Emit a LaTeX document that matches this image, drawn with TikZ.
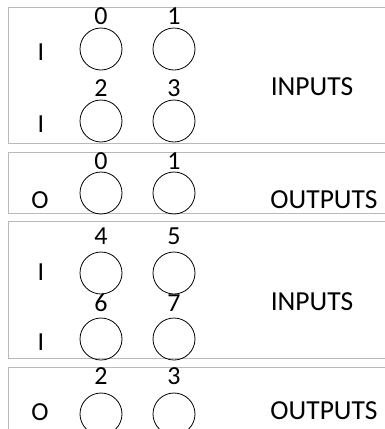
\documentclass[tikz,border=0pt]{standalone}
\usepackage{fontspec}
\setmainfont{Carlito}
\begin{document}
\begin{tikzpicture}[x=1pt,y=-1pt,
  panel/.style={draw=gray!55,line width=1pt},
  port/.style={draw=black,line width=0.8pt,circle,minimum size=42pt,inner sep=0pt},
  lbl/.style={inner sep=0pt,font=\fontsize{26}{26}\selectfont},
  big/.style={inner sep=0pt,font=\fontsize{27.5}{27.5}\selectfont}]
\clip (0,0) rectangle (385,429);
\fill[white] (0,0) rectangle (385,429);
% panels
\draw[panel] (8.5,7) rectangle (400,143);
\draw[panel] (8.5,152) rectangle (400,213);
\draw[panel] (8.5,221) rectangle (400,358);
\draw[panel] (8.5,367) rectangle (400,440);
% panel 1
\node[lbl] (n0) at (101,16) {0};
\node[lbl] (n1) at (174,16) {1};
\node[port] (c0) at (101,49) {};
\node[port] (c1) at (174,49) {};
\node[lbl] (i1) at (41,52) {I};
\node[lbl] (n2) at (101,88) {2};
\node[lbl] (n3) at (174,88) {3};
\node[port] (c2) at (101,121) {};
\node[port] (c3) at (174,121) {};
\node[lbl] (i2) at (41,124) {I};
\node[big] (in1) at (312,87) {INPUTS};
% panel 2
\node[lbl] (m0) at (101,161) {0};
\node[lbl] (m1) at (174,161) {1};
\node[port] (d0) at (101,193) {};
\node[port] (d1) at (174,193) {};
\node[lbl] (o1) at (40,200) {O};
\node[big] (out1) at (324,200) {OUTPUTS};
% panel 3
\node[lbl] (n4) at (101,236) {4};
\node[lbl] (n5) at (174,236) {5};
\node[port] (c4) at (101,273) {};
\node[port] (c5) at (174,273) {};
\node[lbl] (i3) at (41,272) {I};
\node[lbl] (n6) at (101,303) {6};
\node[lbl] (n7) at (174,303) {7};
\node[port] (c6) at (101,339) {};
\node[port] (c7) at (174,339) {};
\node[lbl] (i4) at (41,342) {I};
\node[big] (in2) at (312,302) {INPUTS};
% panel 4
\node[lbl] (m2) at (101,376) {2};
\node[lbl] (m3) at (174,376) {3};
\node[port] (d2) at (101,414) {};
\node[port] (d3) at (174,414) {};
\node[lbl] (o2) at (40,412) {O};
\node[big] (out2) at (324,411) {OUTPUTS};
\end{tikzpicture}
\end{document}
